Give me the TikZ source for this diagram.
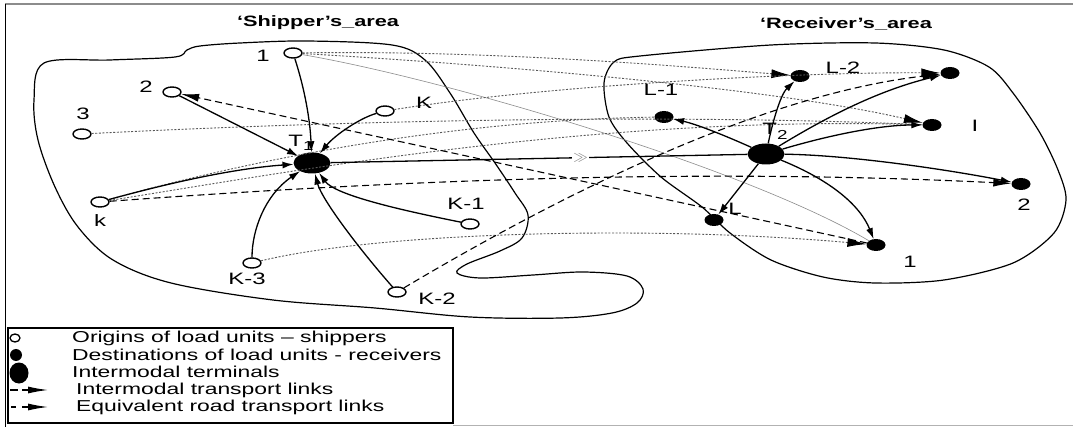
\documentclass[tikz,border=0pt]{standalone}
\usepackage{fontspec}
\setmainfont{Liberation Sans}[FakeStretch=1.45]
\usetikzlibrary{shapes.geometric,arrows.meta}
\begin{document}
\begin{tikzpicture}[x=1pt,y=-1pt,
  orig/.style={ellipse, draw, line width=1.4pt, fill=white, minimum width=18pt, minimum height=10pt, inner sep=0pt},
  dest/.style={ellipse, fill=black, minimum width=19pt, minimum height=12pt, inner sep=0pt},
  term/.style={ellipse, fill=black, minimum width=37pt, minimum height=21pt, inner sep=0pt},
  lbl/.style={font=\fontsize{16.5}{16.5}\selectfont, inner sep=0pt},
  ttl/.style={font=\bfseries\fontsize{15}{15}\selectfont, inner sep=0pt},
  legtext/.style={font=\fontsize{15.8}{16}\selectfont, inner sep=0pt, anchor=west},
  area/.style={line width=1.2pt},
  link/.style={line width=1.3pt, -{Latex[length=11pt,width=7pt]}},
  road/.style={draw=black!65, line width=0.9pt, dash pattern=on 2pt off 1.6pt},
  roadarr/.style={road, -{Latex[length=19pt,width=9pt,color=black]}},
  inter/.style={line width=1.1pt, dash pattern=on 7pt off 4pt},
  interarr/.style={inter, -{Latex[length=18pt,width=8pt]}},
  thinroad/.style={draw=black!45, line width=0.6pt},
  marker/.style={fill=white, text=black!50, inner sep=1pt, font=\fontsize{14}{14}\selectfont}
]
\useasboundingbox (0,0) rectangle (1073,427);
\fill[white] (0,0) rectangle (1073,427);

% frame
\draw[black!45, line width=1.2pt] (5,4) -- (1073,4);
\draw[line width=1pt] (5,4) -- (5,427);
\draw[black!30, line width=1pt] (453,425) -- (1073,425);

% areas
\draw[area] plot[smooth cycle, tension=0.55] coordinates {
 (44,63) (110,60) (175,57) (187,50) (200,46) (240,43) (307,41) (392,45) (425,60)
 (450,93) (474,133) (495,163) (515,193) (528,215) (522,238) (500,251) (467,264)
 (457,273) (480,278) (533,275) (583,272) (627,276) (643,289) (637,303) (612,313)
 (560,318) (470,317) (375,308) (273,300) (171,283) (113,260) (78,227) (55,187)
 (38,140) (34,100)};
\draw[area] plot[smooth cycle, tension=0.5] coordinates {
 (614,62) (640,56) (771,45) (875,43) (944,50) (989,67) (1013,93) (1040,133)
 (1058,170) (1066,200) (1054,233) (1013,263) (944,280) (875,283) (823,277)
 (771,260) (730,233) (702,207) (661,177) (627,143) (609,117) (604,83)};

% titles
\node[ttl] (tS) at (318,23) {‘Shipper’s\_area};
\node[ttl] (tR) at (846,24) {‘Receiver’s\_area};

% shipper nodes
\node[orig] (o1) at (293,53) {};
\node[orig] (o2) at (172,92) {};
\node[orig] (o3) at (82,134) {};
\node[orig] (oK) at (385,111) {};
\node[term] (T1) at (312,163) {};
\node[orig] (ok) at (100,202) {};
\node[orig] (oK1) at (470,224) {};
\node[orig] (oK3) at (252,263) {};
\node[orig] (oK2) at (397,292) {};

% receiver nodes
\node[dest] (dL2) at (800,76) {};
\node[dest] (dTR) at (950,73) {};
\node[dest] (dL1) at (664,117) {};
\node[dest] (dI) at (932,125) {};
\node[term] (T2) at (766,154) {};
\node[dest] (d2) at (1021,184) {};
\node[dest] (dL) at (714,220) {};
\node[dest] (d1) at (876,245) {};

% equivalent road links (dotted)
\draw[roadarr] (o1) .. controls (500,50) and (700,68) .. (dL2);
\draw[roadarr] (o1) .. controls (450,62) and (760,85) .. (dI);
\draw[thinroad] (o1) .. controls (450,80) and (750,170) .. (d1);
\draw[roadarr] (oK) .. controls (550,85) and (800,72) .. (dTR);
\draw[road] (o3) .. controls (400,118) and (700,115) .. (dI);
\draw[road] (ok) .. controls (250,160) and (450,120) .. (dL1);
\draw[road] (ok) .. controls (300,170) and (600,115) .. (dI);
\draw[roadarr] (oK3) .. controls (380,232) and (650,225) .. (d1);

% intermodal links (dashed)
\draw[interarr] (d1) -- (o2);
\draw[interarr] (ok) .. controls (400,180) and (700,168) .. (d2);
\draw[interarr] (oK2) .. controls (560,195) and (760,95) .. (dTR);

% solid links into T1
\draw[link] (o1) .. controls (305,90) and (310,120) .. (T1);
\draw[link] (o2) -- (T1);
\draw[link] (oK) .. controls (360,118) and (335,135) .. (T1);
\draw[link] (ok) .. controls (180,180) and (240,168) .. (T1);
\draw[link] (oK3) .. controls (252,230) and (265,195) .. (T1);
\draw[link] (oK2) .. controls (360,250) and (322,200) .. (T1);
\draw[link] (oK1) .. controls (400,210) and (335,195) .. (T1);

% terminal to terminal
\draw[line width=1.3pt] (T1) -- node[marker, pos=0.6] (mk) {$\gg$} (T2);

% solid links out of T2
\draw[link] (T2) .. controls (772,125) and (780,95) .. (dL2);
\draw[link] (T2) .. controls (830,115) and (880,90) .. (dTR);
\draw[link] (T2) .. controls (735,140) and (700,125) .. (dL1);
\draw[link] (T2) .. controls (830,135) and (880,125) .. (dI);
\draw[link] (T2) .. controls (850,155) and (950,170) .. (d2);
\draw[link] (T2) -- (dL);
\draw[link] (T2) .. controls (830,180) and (860,205) .. (d1);

% labels
\node[lbl] (l1) at (263,56) {1};
\node[lbl] (l2) at (146,87) {2};
\node[lbl] (l3) at (83,114) {3};
\node[lbl] (lK) at (424,103) {K};
\node[lbl] (lT1) at (301,143) {T\raisebox{-4pt}{\fontsize{13}{13}\selectfont 1}};
\node[lbl] (lk) at (100,221) {k};
\node[lbl] (lK1) at (466,204) {K-1};
\node[lbl] (lK3) at (247,279) {K-3};
\node[lbl] (lK2) at (437,299) {K-2};
\node[lbl] (lL2) at (843,68) {L-2};
\node[lbl] (lL1) at (661,90) {L-1};
\node[lbl] (lI) at (975,126) {I};
\node[lbl] (lT2) at (775,131) {T\raisebox{-5pt}{\fontsize{13}{13}\selectfont 2}};
\node[lbl] (ld2) at (1024,205) {2};
\node[lbl] (lL) at (735,209) {L};
\node[lbl] (ld1) at (910,262) {1};

% legend
\draw[line width=1.8pt] (8,328) rectangle (453,423);
\node[ellipse, draw, line width=1.3pt, minimum width=10pt, minimum height=8pt, inner sep=0pt] (gO) at (15,338) {};
\node[circle, fill=black, minimum size=12pt, inner sep=0pt] (gD) at (16,355) {};
\node[ellipse, fill=black, minimum width=19pt, minimum height=21pt, inner sep=0pt] (gT) at (19,373) {};
\coordinate (a1) at (10,390); \coordinate (a2) at (18,390);
\coordinate (a3) at (22,390); \coordinate (a4) at (48,390);
\draw[line width=1.2pt] (a1) -- (a2);
\draw[line width=1.2pt, -{Latex[length=20pt,width=7pt]}] (a3) -- (a4);
\coordinate (b1) at (11,407); \coordinate (b2) at (16,407);
\coordinate (b3) at (22,407); \coordinate (b4) at (48,407);
\draw[line width=1.2pt] (b1) -- (b2);
\draw[line width=1.2pt, -{Latex[length=20pt,width=7pt]}] (b3) -- (b4);
\node[legtext] (t1) at (72,338) {Origins of load units – shippers};
\node[legtext] (t2) at (72,355) {Destinations of load units - receivers};
\node[legtext] (t3) at (72,372) {Intermodal terminals};
\node[legtext] (t4) at (76,390) {Intermodal transport links};
\node[legtext] (t5) at (76,407) {Equivalent road transport links};
\end{tikzpicture}
\end{document}
